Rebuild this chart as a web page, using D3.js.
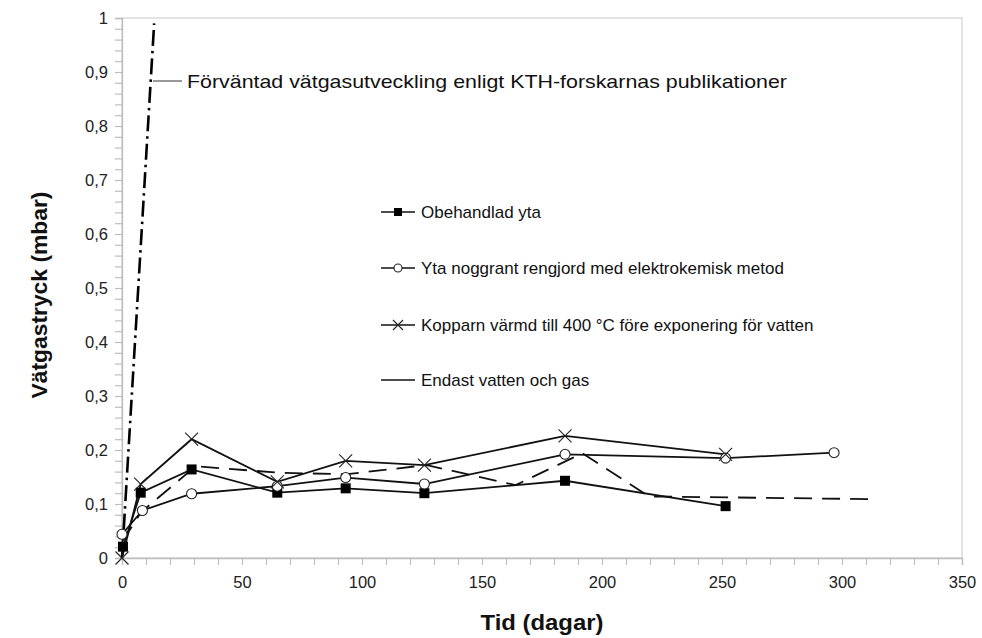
<!DOCTYPE html>
<html><head><meta charset="utf-8">
<script src="https://cdn.jsdelivr.net/npm/d3@7"></script>
<style>body{margin:0;background:#fff;} svg{display:block;font-family:"Liberation Sans",Arial,sans-serif;}</style>
</head><body>
<svg id="c" width="982" height="638"></svg>
<script>
// Data (days, mbar)
const obehandladDays = [0.4, 7.8, 29, 64.7, 93.2, 126, 184.6, 251.5];
const obehandladVals = [0.021, 0.121, 0.164, 0.121, 0.129, 0.12, 0.143, 0.096];
const ytaDays = [0, 8.5, 29, 64.7, 93.2, 126, 184.6, 251.5, 296.7];
const ytaVals = [0.044, 0.088, 0.119, 0.133, 0.149, 0.137, 0.192, 0.185, 0.195];
const kopparDays = [0, 7.8, 29, 64.7, 93.2, 126, 184.6, 251.5];
const kopparVals = [0, 0.137, 0.22, 0.141, 0.18, 0.172, 0.226, 0.192];
const vattenDays = [0, 8, 30.7, 65, 93, 127, 164, 191.8, 219.6, 312];
const vattenVals = [0.03, 0.085, 0.17, 0.158, 0.155, 0.172, 0.135, 0.194, 0.114, 0.109];
const forvantadDays = [0, 13.4];
const forvantadVals = [0, 0.99];
const legendLabels = ["Obehandlad yta", "Yta noggrant rengjord med elektrokemisk metod", "Kopparn värmd till 400 °C före exponering för vatten", "Endast vatten och gas"];
const annotationText = "Förväntad vätgasutveckling enligt KTH-forskarnas publikationer";
const xTicks = [0, 50, 100, 150, 200, 250, 300, 350];
const yTicks = [0, 0.1, 0.2, 0.3, 0.4, 0.5, 0.6, 0.7, 0.8, 0.9, 1];

const svg = d3.select("#c");
const L = 122, T = 18, W = 840, H = 540;
const x = d3.scaleLinear().domain([0, 350]).range([L, L + W]);
const y = d3.scaleLinear().domain([0, 1]).range([T + H, T]);

// frame
svg.append("rect").attr("x", L).attr("y", T).attr("width", W).attr("height", H)
  .attr("fill", "none").attr("stroke", "#d4d4d4").attr("stroke-width", 1.3);

// x axis
const gx = svg.append("g").attr("transform", `translate(0,${T + H})`)
  .call(d3.axisBottom(x).tickValues(d3.range(0, 351, 10)).tickSize(7).tickFormat(d => xTicks.includes(d) ? d : ""));
gx.select(".domain").attr("stroke", "#bdbdbd").attr("stroke-width", 1.3);
gx.selectAll(".tick line").attr("stroke", "#bdbdbd").attr("stroke-width", 1.2);
gx.selectAll(".tick text").attr("font-size", 16.5).attr("fill", "#222").attr("dy", "1.2em")
  .attr("font-family", "Liberation Sans, Arial, sans-serif");

// y axis
const yMinor = d3.range(0, 51).map(i => i / 50);
const gy = svg.append("g").attr("transform", `translate(${L},0)`)
  .call(d3.axisLeft(y).tickValues(yMinor).tickSize(7).tickFormat(d => {
    const m = yTicks.find(t => Math.abs(t - d) < 1e-9);
    return m === undefined ? "" : (m === 0 ? "0" : m === 1 ? "1" : String(m).replace(".", ","));
  }));
gy.select(".domain").attr("stroke", "#bdbdbd").attr("stroke-width", 1.3);
gy.selectAll(".tick line").attr("stroke", "#bdbdbd").attr("stroke-width", 1.2);
gy.selectAll(".tick text").attr("font-size", 16.5).attr("fill", "#222").attr("x", -14)
  .attr("font-family", "Liberation Sans, Arial, sans-serif");

// axis titles
svg.append("text").attr("x", x(175)).attr("y", 630).attr("text-anchor", "middle")
  .attr("font-size", 22).attr("font-weight", "bold").attr("fill", "#111")
  .attr("textLength", 123).attr("lengthAdjust", "spacingAndGlyphs").text("Tid (dagar)");
svg.append("text").attr("transform", `translate(47,${y(0.487)}) rotate(-90)`).attr("text-anchor", "middle")
  .attr("font-size", 22).attr("font-weight", "bold").attr("fill", "#111")
  .attr("textLength", 207).attr("lengthAdjust", "spacingAndGlyphs").text("Vätgastryck (mbar)");

const line = d3.line().x(d => x(d[0])).y(d => y(d[1]));
const zip = (a, b) => a.map((v, i) => [v, b[i]]);

// expected line (dash-dot)
svg.append("path").datum(zip(forvantadDays, forvantadVals)).attr("d", line)
  .attr("fill", "none").attr("stroke", "#000").attr("stroke-width", 2.6).attr("stroke-dasharray", "16,5,2.5,5");

// water and gas (dashed)
svg.append("path").datum(zip(vattenDays, vattenVals)).attr("d", line)
  .attr("fill", "none").attr("stroke", "#111").attr("stroke-width", 1.8).attr("stroke-dasharray", "18,10");

// solid series
const series = [
  {d: zip(obehandladDays, obehandladVals), m: "square"},
  {d: zip(ytaDays, ytaVals), m: "circle"},
  {d: zip(kopparDays, kopparVals), m: "cross"}
];
series.forEach(s => {
  svg.append("path").datum(s.d).attr("d", line).attr("fill", "none").attr("stroke", "#111").attr("stroke-width", 1.8);
});
function marker(g, type, cx, cy, size) {
  if (type === "square") {
    g.append("rect").attr("x", cx - size / 2).attr("y", cy - size / 2).attr("width", size).attr("height", size).attr("fill", "#000");
  } else if (type === "circle") {
    g.append("circle").attr("cx", cx).attr("cy", cy).attr("r", size / 2).attr("fill", "#fff").attr("stroke", "#222").attr("stroke-width", 1.1);
  } else {
    const h = size / 2;
    g.append("path").attr("d", `M${cx - h},${cy - h}L${cx + h},${cy + h}M${cx - h},${cy + h}L${cx + h},${cy - h}`)
      .attr("stroke", "#222").attr("stroke-width", 1.1);
  }
}
const mg = svg.append("g");
series.forEach(s => s.d.forEach(p => marker(mg, s.m, x(p[0]), y(p[1]), s.m === "square" ? 10 : s.m === "circle" ? 10 : 13)));

// annotation
svg.append("line").attr("x1", 153).attr("x2", 182).attr("y1", 81).attr("y2", 81).attr("stroke", "#333").attr("stroke-width", 1);
svg.append("text").attr("x", 187).attr("y", 88).attr("font-size", 19).attr("fill", "#111")
  .attr("textLength", 600).attr("lengthAdjust", "spacingAndGlyphs").text(annotationText);

// legend
const legY = [212, 268, 325, 380];
const legM = ["square", "circle", "cross", null];
legendLabels.forEach((lab, i) => {
  const g = svg.append("g");
  g.append("line").attr("x1", 381).attr("x2", 415).attr("y1", legY[i]).attr("y2", legY[i]).attr("stroke", "#111").attr("stroke-width", 1.6);
  if (legM[i]) marker(g, legM[i], 398, legY[i], legM[i] === "square" ? 8 : legM[i] === "circle" ? 8 : 10);
  g.append("text").attr("x", 421).attr("y", legY[i] + 6).attr("font-size", 17).attr("fill", "#111").text(lab);
});
</script>
</body></html>
